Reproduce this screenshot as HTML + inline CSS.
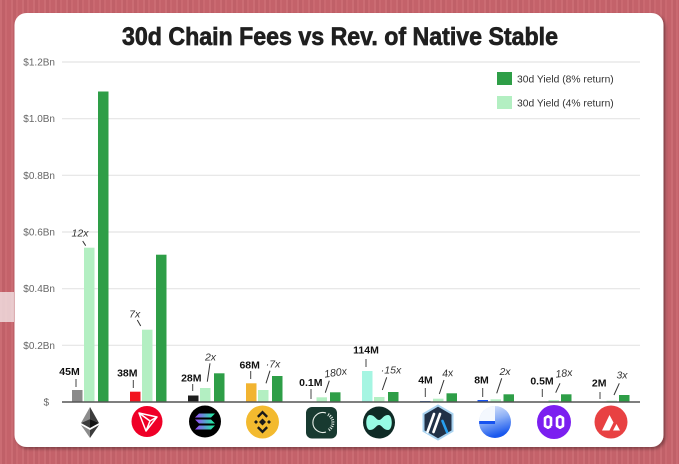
<!DOCTYPE html>
<html><head><meta charset="utf-8">
<style>
html,body{margin:0;padding:0;width:679px;height:464px;overflow:hidden;}
body{background:#c8646c;background-image:repeating-linear-gradient(90deg,rgba(255,255,255,0.05) 0 2px,rgba(0,0,0,0.04) 2px 5px,rgba(255,255,255,0.03) 5px 7px,rgba(0,0,0,0.02) 7px 11px);}
svg{position:absolute;left:0;top:0;}
text{font-family:"Liberation Sans",sans-serif;}
</style></head>
<body>
<svg width="679" height="464" viewBox="0 0 679 464" xmlns="http://www.w3.org/2000/svg">
<defs>
<filter id="sh" x="-5%" y="-5%" width="110%" height="110%"><feDropShadow dx="2" dy="2" stdDeviation="1.5" flood-color="#000" flood-opacity="0.35"/></filter>
<linearGradient id="sol" x1="0" y1="0" x2="1" y2="0"><stop offset="0" stop-color="#9945ff"/><stop offset="1" stop-color="#19fb9b"/></linearGradient>
<linearGradient id="bl" x1="0" y1="0" x2="0.3" y2="1"><stop offset="0" stop-color="#e4edfc"/><stop offset="0.5" stop-color="#8db0f6"/><stop offset="1" stop-color="#1a58ee"/></linearGradient>
</defs>
<rect x="0" y="292" width="14" height="30" fill="#f1e4e5" opacity="0.8"/>
<rect x="14.5" y="13" width="649" height="434" rx="12" fill="#fff" filter="url(#sh)"/>

<text x="122" y="45" font-size="25" font-weight="bold" fill="#1f1f1f" stroke="#1f1f1f" stroke-width="0.7" textLength="436" lengthAdjust="spacingAndGlyphs">30d Chain Fees vs Rev. of Native Stable</text>

<g stroke="#e4e4e4" stroke-width="1.2">
<line x1="62" y1="62" x2="640" y2="62"/>
<line x1="62" y1="118.7" x2="640" y2="118.7"/>
<line x1="62" y1="175.3" x2="640" y2="175.3"/>
<line x1="62" y1="232" x2="640" y2="232"/>
<line x1="62" y1="288.7" x2="640" y2="288.7"/>
<line x1="62" y1="345.3" x2="640" y2="345.3"/>
</g>
<g font-size="10" fill="#666" text-anchor="end">
<text x="55" y="65.5">$1.2Bn</text>
<text x="55" y="122.2">$1.0Bn</text>
<text x="55" y="178.8">$0.8Bn</text>
<text x="55" y="235.5">$0.6Bn</text>
<text x="55" y="292.2">$0.4Bn</text>
<text x="55" y="348.8">$0.2Bn</text>
<text x="49" y="405.5">$</text>
</g>

<!-- legend -->
<rect x="497" y="72" width="15" height="13" fill="#2e9e47"/>
<rect x="497" y="96" width="15" height="13" fill="#b3efc2"/>
<text x="517" y="82.5" font-size="10.3" fill="#333">30d Yield (8% return)</text>
<text x="517" y="106.5" font-size="10.3" fill="#333">30d Yield (4% return)</text>

<!-- bars -->
<g>
<!-- ETH c=90 -->
<rect x="72" y="390" width="10.5" height="12" fill="#8a8a8a"/>
<rect x="84" y="247.7" width="10.5" height="154.3" fill="#b3efc2"/>
<rect x="98" y="91.5" width="10.5" height="310.5" fill="#2e9e47"/>
<!-- TRX c=148 -->
<rect x="130" y="391.7" width="10.5" height="10.3" fill="#f2141e"/>
<rect x="142" y="329.7" width="10.5" height="72.3" fill="#b3efc2"/>
<rect x="156" y="254.7" width="10.5" height="147.3" fill="#2e9e47"/>
<!-- SOL c=206 -->
<rect x="188" y="395.5" width="10.5" height="6.5" fill="#1e1e1e"/>
<rect x="200" y="388" width="10.5" height="14" fill="#b3efc2"/>
<rect x="214" y="373.3" width="10.5" height="28.7" fill="#2e9e47"/>
<!-- BNB c=264 -->
<rect x="246" y="383.3" width="10.5" height="18.7" fill="#f2b431"/>
<rect x="258" y="390" width="10.5" height="12" fill="#b3efc2"/>
<rect x="272" y="376" width="10.5" height="26" fill="#2e9e47"/>
<!-- 5th c=322 -->
<rect x="316.5" y="397.3" width="10.5" height="4.7" fill="#b3efc2"/>
<rect x="330" y="392.3" width="10.5" height="9.7" fill="#2e9e47"/>
<!-- HYPE c=380 -->
<rect x="362" y="371" width="10.5" height="31" fill="#a5f5e2"/>
<rect x="374" y="397" width="10.5" height="5" fill="#b3efc2"/>
<rect x="388" y="392" width="10.5" height="10" fill="#2e9e47"/>
<!-- ARB c=438 -->
<rect x="420" y="401" width="10.5" height="1" fill="#2a62c8"/>
<rect x="433" y="398.7" width="10.5" height="3.3" fill="#b3efc2"/>
<rect x="446.5" y="393.3" width="10.5" height="8.7" fill="#2e9e47"/>
<!-- 8M c=496 -->
<rect x="477.5" y="400" width="10.5" height="2" fill="#1652f0"/>
<rect x="490.5" y="399.3" width="10.5" height="2.7" fill="#b3efc2"/>
<rect x="503.5" y="394.3" width="10.5" height="7.7" fill="#2e9e47"/>
<!-- 0.5M c=554 -->
<rect x="548.5" y="400" width="10.5" height="2" fill="#b3efc2"/>
<rect x="561" y="394.3" width="10.5" height="7.7" fill="#2e9e47"/>
<!-- AVAX c=612 -->
<rect x="606.5" y="400.7" width="10.5" height="1.3" fill="#b3efc2"/>
<rect x="619" y="395" width="10.5" height="7" fill="#2e9e47"/>
</g>

<line x1="62" y1="402" x2="640" y2="402" stroke="#555" stroke-width="1.5"/>

<!-- amount labels -->
<g font-size="10.5" font-weight="bold" fill="#111" text-anchor="middle">
<text x="69.5" y="375">45M</text>
<text x="127.3" y="376.7">38M</text>
<text x="191.3" y="381.7">28M</text>
<text x="249.7" y="368.3">68M</text>
<text x="310.8" y="386">0.1M</text>
<text x="366" y="353.3">114M</text>
<text x="425.5" y="383.3">4M</text>
<text x="481.5" y="383.3">8M</text>
<text x="542" y="384.3">0.5M</text>
<text x="599.2" y="386.7">2M</text>
</g>
<g stroke="#444" stroke-width="1">
<line x1="76" y1="379" x2="76" y2="387"/>
<line x1="133.3" y1="380" x2="133.3" y2="388"/>
<line x1="192.7" y1="384" x2="192.7" y2="391"/>
<line x1="250.7" y1="371" x2="250.7" y2="379"/>
<line x1="311" y1="389" x2="311" y2="399"/>
<line x1="366" y1="359" x2="366" y2="367"/>
<line x1="425.3" y1="388" x2="425.3" y2="397"/>
<line x1="482.7" y1="388" x2="482.7" y2="397"/>
<line x1="542.3" y1="389" x2="542.3" y2="397"/>
<line x1="600" y1="392" x2="600" y2="399"/>
</g>

<!-- multiplier labels -->
<g font-size="10.5" font-style="italic" fill="#333" text-anchor="middle">
<text x="80" y="236.7">12x</text>
<text x="134.7" y="317.3">7x</text>
<text x="210.5" y="360.7">2x</text>
<text x="273" y="367.7">·7x</text>
<text x="336" y="376" transform="rotate(-8 336 376)">180x</text>
<text x="391" y="373.3">·15x</text>
<text x="448" y="376.7" transform="rotate(-6 448 376.7)">4x</text>
<text x="505" y="375">2x</text>
<text x="564.3" y="376.7" transform="rotate(-6 564.3 376.7)">18x</text>
<text x="622" y="378.3">3x</text>
</g>
<g stroke="#333" stroke-width="1">
<line x1="82.7" y1="241" x2="85.7" y2="245.7"/>
<line x1="137.3" y1="320" x2="140.7" y2="326"/>
<line x1="210" y1="363.3" x2="207.3" y2="381.7"/>
<line x1="270" y1="370.7" x2="266" y2="383.3"/>
<line x1="329.3" y1="380.7" x2="325.3" y2="392.7"/>
<line x1="386.7" y1="377.3" x2="382.3" y2="390"/>
<line x1="444" y1="380" x2="439.3" y2="394"/>
<line x1="501.7" y1="378.3" x2="496.7" y2="393.3"/>
<line x1="560" y1="383.3" x2="555.7" y2="392.7"/>
<line x1="619.3" y1="383.3" x2="614" y2="395"/>
</g>

<!-- icons -->
<!-- ETH -->
<g>
<polygon points="90,407 81,423 90,419" fill="#8c8c8c"/>
<polygon points="90,407 99,423 90,419" fill="#3c3c3c"/>
<polygon points="81,423 90,419 90,428" fill="#3c3c3c"/>
<polygon points="99,423 90,419 90,428" fill="#141414"/>
<polygon points="81,425 90,430 90,438" fill="#8c8c8c"/>
<polygon points="99,425 90,430 90,438" fill="#3c3c3c"/>
</g>
<!-- TRX -->
<circle cx="147" cy="421.5" r="15.5" fill="#ef0027"/>
<g fill="none" stroke="#fff" stroke-width="1.5" stroke-linejoin="round">
<polygon points="139,413 157,417 146,431"/>
<polyline points="139,413 150,421 146,431"/>
<line x1="150" y1="421" x2="157" y2="417"/>
</g>
<!-- SOL -->
<circle cx="205" cy="421.5" r="16" fill="#000"/>
<polygon points="199,413.5 215,413.5 211,417.5 195,417.5" fill="url(#sol)"/>
<polygon points="195,419.5 211,419.5 215,423.5 199,423.5" fill="url(#sol)"/>
<polygon points="199,425.5 215,425.5 211,429.5 195,429.5" fill="url(#sol)"/>
<!-- BNB -->
<circle cx="262.5" cy="422" r="16.5" fill="#f3ba2f"/>
<g fill="#1a1a1a">
<polygon points="262.5,418.5 266,422 262.5,425.5 259,422"/>
<polygon points="262.5,410.5 268,416 266.3,417.7 262.5,413.9 258.7,417.7 257,416"/>
<polygon points="262.5,433.5 268,428 266.3,426.3 262.5,430.1 258.7,426.3 257,428"/>
<polygon points="254,422 256,420 258,422 256,424"/>
<polygon points="271,422 269,420 267,422 269,424"/>
</g>
<!-- 5th -->
<rect x="306" y="407" width="31" height="31.5" rx="6" fill="#183a30"/>
<g fill="none" stroke="#e8efe9" stroke-width="1.1">
<path d="M 326 413 A 10 10 0 1 0 326 432"/>
<path d="M 328 414.5 A 9 9 0 0 1 328 430.5" stroke-dasharray="1 1.2" stroke-width="3"/>
</g>
<!-- HYPE -->
<circle cx="379" cy="422.5" r="16" fill="#0f2b26"/>
<path d="M 370 415 C 375 415, 376 420, 379 420 C 382 420, 383 415, 388 415 C 393 415, 393 430, 388 430 C 383 430, 382 425, 379 425 C 376 425, 375 430, 370 430 C 365 430, 365 415, 370 415 Z" fill="#97fce4"/>
<!-- ARB -->
<polygon points="438,405.5 452.5,414 452.5,431 438,439.5 423.5,431 423.5,414" fill="#213147" stroke="#a9d3f0" stroke-width="2"/>
<g stroke-width="2.6" stroke-linecap="round">
<line x1="434" y1="414" x2="427.5" y2="432" stroke="#fff"/>
<line x1="440" y1="414" x2="433.5" y2="432" stroke="#fff"/>
<line x1="442.5" y1="421" x2="447" y2="432" stroke="#28a0f0"/>
</g>
<!-- blue -->
<circle cx="495" cy="422" r="16" fill="url(#bl)"/>
<path d="M 479 421 A 16 16 0 0 1 495 406 L 495 421 Z" fill="#f4f8fe"/>
<rect x="479.2" y="421" width="15.8" height="3" fill="#1652f0"/>
<!-- Polygon -->
<circle cx="554" cy="422" r="17" fill="#7b1ff0"/>
<g fill="none" stroke="#fff" stroke-width="2.6" stroke-linejoin="round">
<path d="M 551 420.5 L 551 418 L 548 416.3 L 545 418 L 545 426 L 548 427.7 L 551 426"/>
<path d="M 557 423.5 L 557 426 L 560 427.7 L 563 426 L 563 418 L 560 416.3 L 557 418 L 557 426"/>
<line x1="551" y1="420" x2="551" y2="426"/>
</g>
<!-- AVAX -->
<circle cx="611" cy="422" r="16.5" fill="#e84142"/>
<polygon points="602,430.5 609.5,415 613.5,422.5 609.5,430.5" fill="#fff"/>
<polygon points="613,430.5 616.5,424 620,430.5" fill="#fff"/>
</svg>
</body></html>
